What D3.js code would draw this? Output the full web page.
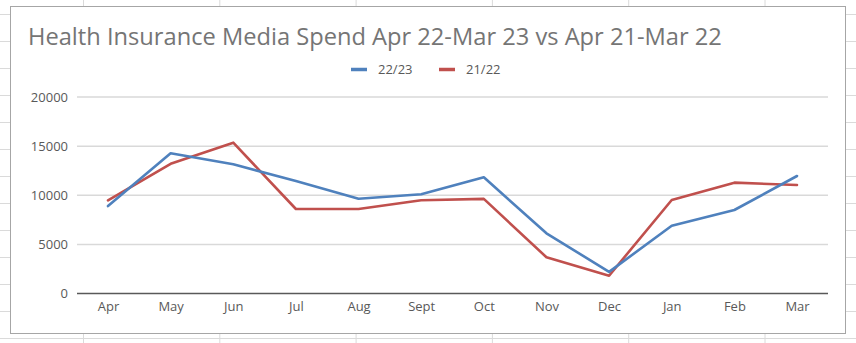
<!DOCTYPE html>
<html>
<head>
<meta charset="utf-8">
<script src="https://cdn.jsdelivr.net/npm/d3@7"></script>
<style>
  html, body { margin: 0; padding: 0; background: #ffffff; }
  svg { display: block; }
  text { font-family: "Open Sans", "Noto Sans", sans-serif; }
</style>
</head>
<body>
<svg id="chart" width="856" height="343"></svg>
<script>
const title = "Health Insurance Media Spend Apr 22-Mar 23 vs Apr 21-Mar 22";
const months = ["Apr","May","Jun","Jul","Aug","Sept","Oct","Nov","Dec","Jan","Feb","Mar"];
const series2223 = [8900, 14270, 13150, 11450, 9650, 10100, 11830, 6130, 2200, 6900, 8500, 11960];
const series2122 = [9490, 13200, 15350, 8600, 8600, 9490, 9630, 3690, 1810, 9520, 11280, 11040];
const seriesNames = ["22/23", "21/22"];
const seriesColors = ["#4f81bd", "#c0504d"];
const yTicks = [0, 5000, 10000, 15000, 20000];

const W = 856, H = 343;
const svg = d3.select("#chart");

// Spreadsheet grid background
const bg = svg.append("g");
const colX = d3.range(-5, 7).map(i => 83 + i * 136.3).filter(x => x > 0 && x < W);
const rowY = d3.range(0, 13).map(i => 14 + i * 27);
colX.forEach(x => bg.append("line").attr("x1", x + 0.5).attr("x2", x + 0.5).attr("y1", 0).attr("y2", H).attr("stroke", "#dadada").attr("stroke-width", 1));
rowY.forEach(y => bg.append("line").attr("x1", 0).attr("x2", W).attr("y1", y + 0.5).attr("y2", y + 0.5).attr("stroke", "#dadada").attr("stroke-width", 1));

// Chart area
svg.append("rect").attr("x", 10.5).attr("y", 6.5).attr("width", 835).attr("height", 327)
  .attr("fill", "#ffffff").attr("stroke", "#a6a6a6").attr("stroke-width", 1);

// Title
const t = svg.append("text").attr("x", 28).attr("y", 45).attr("fill", "#757575")
  .style("font-size", "24px").text(title);
const tl = t.node().getComputedTextLength();
t.style("font-size", (24 * 694 / tl).toFixed(2) + "px");

// Scales
const x = d3.scalePoint().domain(months).range([108, 797]);
const y = d3.scaleLinear().domain([0, 20000]).range([293.5, 97]);

// Gridlines
const grid = svg.append("g");
yTicks.filter(v => v > 0).forEach(v => {
  grid.append("line").attr("x1", 77).attr("x2", 828).attr("y1", y(v)).attr("y2", y(v))
    .attr("stroke", "#d9d9d9").attr("stroke-width", 1.5);
});

// Y axis labels
const yAxis = d3.axisLeft(y).tickValues(yTicks).tickSize(0).tickPadding(0).tickFormat(d3.format("d"));
const yg = svg.append("g").attr("transform", "translate(68,0)").call(yAxis);
yg.select(".domain").remove();
yg.selectAll("text").attr("fill", "#595959").style("font-size", "13px")
  .style("font-family", "'Open Sans', sans-serif");

// X axis
const xAxis = d3.axisBottom(x).tickSize(0).tickPadding(0);
const xg = svg.append("g").attr("transform", "translate(0," + y(0) + ")").call(xAxis);
xg.select(".domain").remove();
xg.selectAll("text").attr("fill", "#595959").style("font-size", "13px")
  .style("font-family", "'Open Sans', sans-serif").attr("dy", "1.05em").attr("y", 4);
svg.append("line").attr("x1", 77).attr("x2", 828).attr("y1", y(0)).attr("y2", y(0))
  .attr("stroke", "#595959").attr("stroke-width", 1.5);

// Lines
const line = d3.line().x((d, i) => x(months[i])).y(d => y(d));
[series2122, series2223].forEach((s, k) => {
  const ci = k === 0 ? 1 : 0;
  svg.append("path").datum(s).attr("d", line).attr("fill", "none")
    .attr("stroke", seriesColors[ci]).attr("stroke-width", 2.6)
    .attr("stroke-linejoin", "round").attr("stroke-linecap", "round");
});

// Legend
const legendX = [351, 439];
seriesNames.forEach((n, i) => {
  svg.append("line").attr("x1", legendX[i]).attr("x2", legendX[i] + 16).attr("y1", 69.5).attr("y2", 69.5)
    .attr("stroke", seriesColors[i]).attr("stroke-width", 3.5);
  svg.append("text").attr("x", legendX[i] + 27).attr("y", 74).attr("fill", "#595959")
    .style("font-size", "13px").text(n);
});
</script>
</body>
</html>
